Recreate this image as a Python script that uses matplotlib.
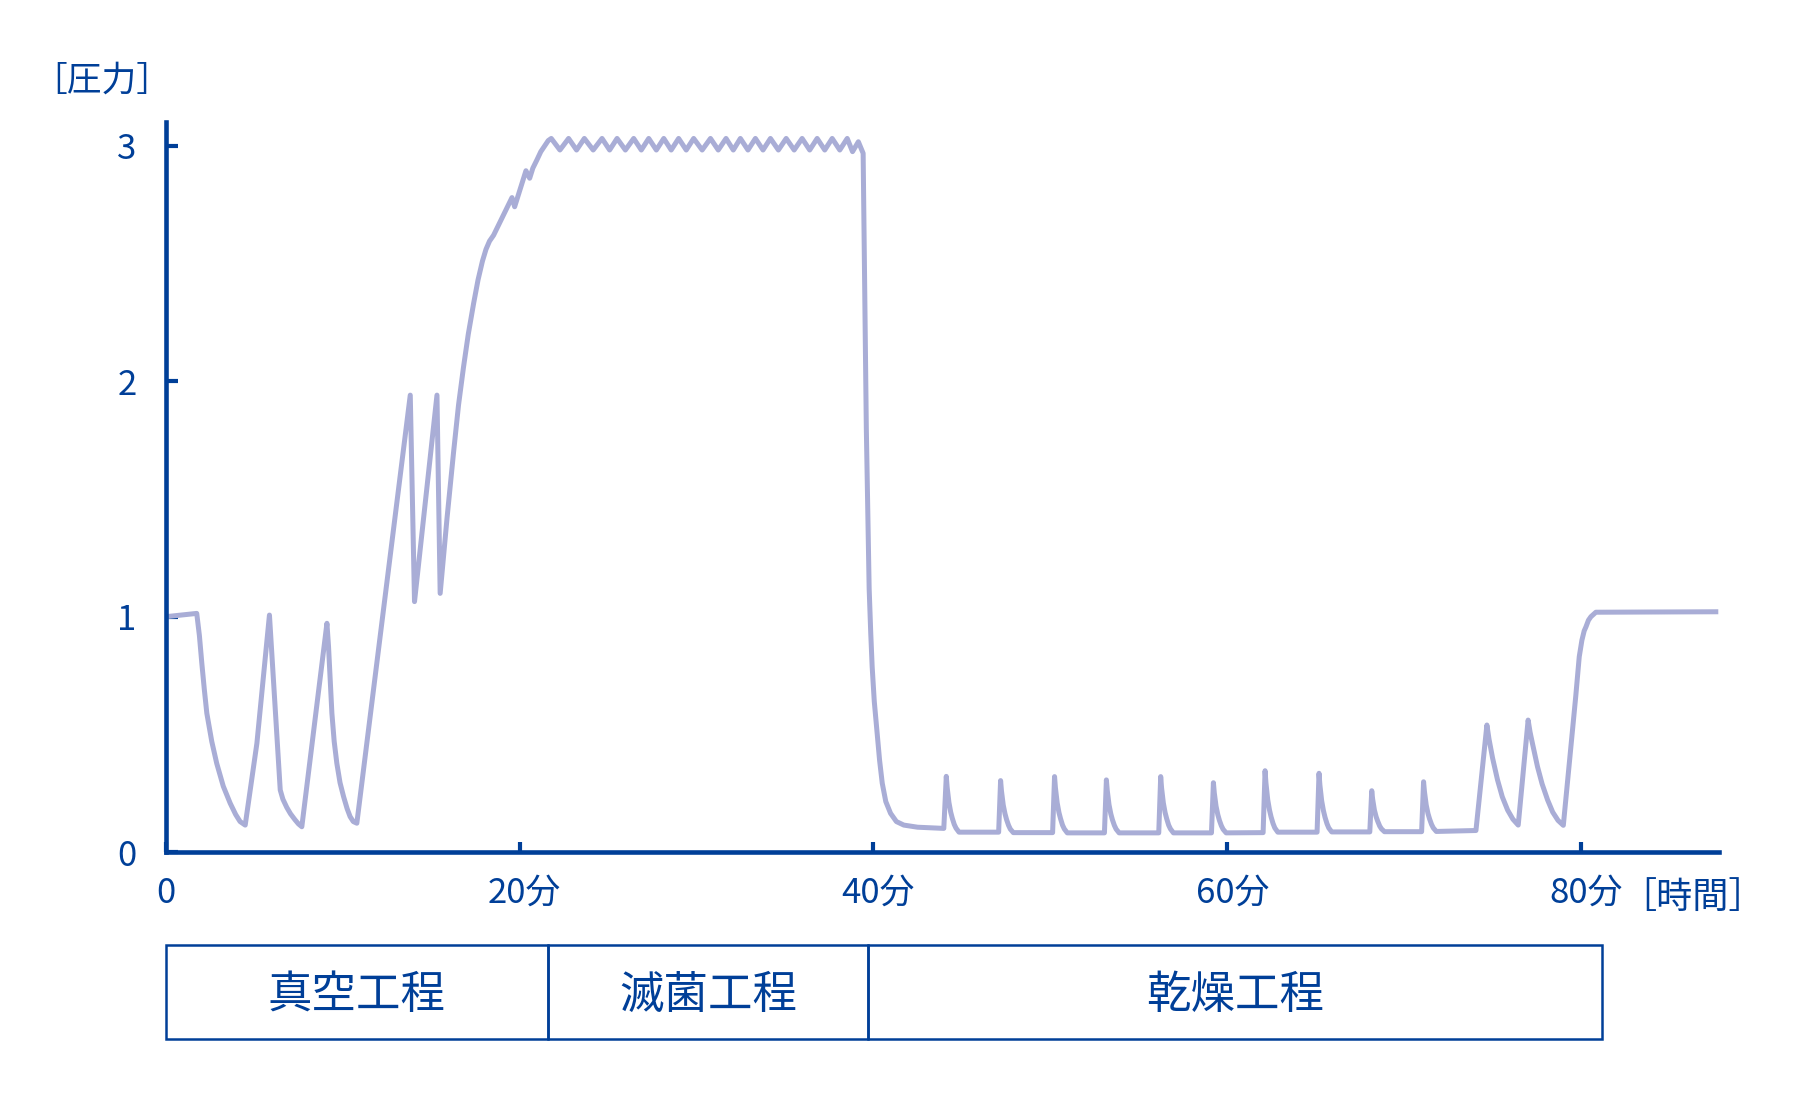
import matplotlib
matplotlib.use("Agg")
import matplotlib.pyplot as plt
from matplotlib.patches import Rectangle
from matplotlib.transforms import ScaledTranslation

plt.rcParams['font.family'] = ['Noto Sans CJK JP', 'DejaVu Sans']

AXIS_COLOR = '#003F98'
LINE_COLOR = '#A9ADD6'

# ---- data (minutes, pressure) ----
vac_t = [0.0, 1.75, 1.90, 2.04, 2.18, 2.32, 2.60, 2.88, 3.25, 3.64, 3.95, 4.20, 4.49,
         5.15, 5.86, 6.47, 6.62, 6.84, 7.05, 7.30, 7.50, 7.69,
         9.11, 9.20, 9.30, 9.39, 9.52, 9.67, 9.85, 10.05, 10.25, 10.42, 10.60, 10.80,
         13.82, 14.06, 15.33, 15.51,
         15.90, 16.27, 16.55, 16.83, 17.10, 17.40, 17.65, 17.90, 18.10, 18.30, 18.53,
         19.57, 19.72, 20.36, 20.57, 20.75, 20.98, 21.20, 21.45, 21.62, 21.79]
vac_p = [1.0, 1.014, 0.92, 0.80, 0.69, 0.59, 0.47, 0.377, 0.28, 0.208, 0.16, 0.13, 0.115,
         0.462, 1.007, 0.264, 0.225, 0.19, 0.163, 0.138, 0.12, 0.108,
         0.972, 0.873, 0.72, 0.59, 0.47, 0.377, 0.295, 0.236, 0.185, 0.151, 0.13, 0.123,
         1.941, 1.064, 1.941, 1.099,
         1.42, 1.70, 1.90, 2.06, 2.20, 2.33, 2.43, 2.51, 2.56, 2.595, 2.62,
         2.78, 2.741, 2.894, 2.862, 2.905, 2.94, 2.975, 3.003, 3.022, 3.031]

ster_t = [22.28, 22.77, 23.22, 23.66, 24.16, 24.66, 25.09, 25.51, 25.98, 26.45,
          26.88, 27.30, 27.73, 28.15, 28.57, 28.99, 29.42, 29.84, 30.32, 30.79,
          31.23, 31.67, 32.08, 32.48, 32.91, 33.33, 33.76, 34.18, 34.63, 35.07,
          35.52, 35.97, 36.40, 36.82, 37.25, 37.67, 38.10, 38.52, 38.82, 39.15,
          39.42]
ster_p = [2.982, 3.031, 2.982, 3.031, 2.982, 3.031, 2.982, 3.031, 2.982, 3.031,
          2.982, 3.031, 2.982, 3.031, 2.982, 3.031, 2.982, 3.031, 2.982, 3.031,
          2.982, 3.031, 2.982, 3.031, 2.982, 3.031, 2.982, 3.031, 2.982, 3.031,
          2.982, 3.031, 2.982, 3.031, 2.982, 3.031, 2.982, 3.031, 2.975, 3.017,
          2.968]

drop_t = [39.52, 39.60, 39.68, 39.76, 39.85, 39.93, 40.05, 40.21, 40.35, 40.50,
          40.70, 40.97, 41.30, 41.72, 42.50, 43.98]
drop_p = [2.30, 1.80, 1.45, 1.12, 0.93, 0.788, 0.64, 0.505, 0.39, 0.293,
          0.215, 0.165, 0.13, 0.115, 0.106, 0.101]

pulse_t = [44.12, 44.17, 44.27, 44.37, 44.46, 44.57, 44.67, 44.84,
           47.08, 47.19, 47.24, 47.34, 47.44, 47.53, 47.64, 47.74, 47.91,
           50.13, 50.24, 50.29, 50.39, 50.49, 50.58, 50.69, 50.79, 50.96,
           53.06, 53.17, 53.22, 53.32, 53.42, 53.51, 53.62, 53.72, 53.89,
           56.13, 56.24, 56.29, 56.39, 56.49, 56.58, 56.69, 56.79, 56.96,
           59.11, 59.22, 59.27, 59.37, 59.47, 59.56, 59.67, 59.77, 59.94,
           62.03, 62.14, 62.19, 62.29, 62.39, 62.48, 62.59, 62.69, 62.86,
           65.08, 65.19, 65.24, 65.34, 65.44, 65.53, 65.64, 65.74, 65.91,
           68.06, 68.17, 68.22, 68.32, 68.42, 68.51, 68.62, 68.72, 68.89,
           70.99, 71.10, 71.15, 71.25, 71.35, 71.44, 71.55, 71.65, 71.82]
pulse_p = [0.322, 0.275, 0.211, 0.170, 0.144, 0.118, 0.102, 0.085,
           0.085, 0.304, 0.260, 0.200, 0.163, 0.138, 0.114, 0.098, 0.083,
           0.083, 0.321, 0.273, 0.209, 0.168, 0.142, 0.115, 0.099, 0.082,
           0.082, 0.307, 0.262, 0.201, 0.163, 0.138, 0.114, 0.098, 0.082,
           0.082, 0.321, 0.273, 0.209, 0.168, 0.142, 0.115, 0.099, 0.082,
           0.082, 0.295, 0.252, 0.195, 0.159, 0.135, 0.112, 0.097, 0.082,
           0.083, 0.346, 0.294, 0.223, 0.179, 0.150, 0.122, 0.103, 0.085,
           0.085, 0.335, 0.285, 0.218, 0.176, 0.148, 0.121, 0.103, 0.086,
           0.086, 0.261, 0.226, 0.179, 0.150, 0.131, 0.111, 0.099, 0.087,
           0.087, 0.299, 0.257, 0.200, 0.164, 0.141, 0.118, 0.103, 0.088]

end_t = [74.06, 74.68, 74.80, 75.00, 75.28, 75.55, 75.85, 76.15, 76.45,
         77.01, 77.12, 77.26, 77.54, 77.80, 78.11, 78.40, 78.70, 79.00,
         79.43, 79.70, 79.90, 80.05, 80.18, 80.28, 80.42, 80.56, 80.84, 87.76]
end_p = [0.092, 0.54, 0.48, 0.40, 0.307, 0.235, 0.179, 0.14, 0.115,
         0.561, 0.51, 0.46, 0.363, 0.29, 0.222, 0.17, 0.135, 0.114,
         0.448, 0.66, 0.83, 0.90, 0.94, 0.957, 0.985, 1.0, 1.019, 1.021]

x_ticks = [0, 20, 40, 60, 80]
x_tick_labels = ['0', '20分', '40分', '60分', '80分']
y_ticks = [0, 1, 2, 3]
y_tick_labels = ['0', '1', '2', '3']

phase_names = ['真空工程', '滅菌工程', '乾燥工程']
phase_bounds = [0, 21.6, 39.7, 81.2]

y_label = '［圧力］'
x_label = '［時間］'

# ---- figure ----
fig = plt.figure(figsize=(18, 11.01), dpi=100)
left, right = 0.0921, 0.955
bottom, top = 0.226, 0.889
ax = fig.add_axes([left, bottom, right - left, top - bottom])

t_all = vac_t + ster_t + drop_t + pulse_t + end_t
p_all = vac_p + ster_p + drop_p + pulse_p + end_p
ax.plot(t_all, p_all, color=LINE_COLOR, lw=3.6, solid_joinstyle='round',
        solid_capstyle='butt', zorder=2)

ax.set_xlim(0, 87.8)
ax.set_ylim(0, 3.1)
for s in ['top', 'right']:
    ax.spines[s].set_visible(False)
for s in ['left', 'bottom']:
    ax.spines[s].set_color(AXIS_COLOR)
    ax.spines[s].set_linewidth(3.3)
    ax.spines[s].set_zorder(3)

ax.set_xticks(x_ticks)
ax.set_xticklabels(x_tick_labels)
ax.set_yticks(y_ticks)
ax.set_yticklabels(y_tick_labels)
ax.tick_params(axis='x', direction='in', length=7, width=3, color=AXIS_COLOR,
               labelcolor=AXIS_COLOR, labelsize=25, pad=17)
ax.tick_params(axis='y', direction='in', length=8.5, width=3, color=AXIS_COLOR,
               labelcolor=AXIS_COLOR, labelsize=25, pad=21)
shift = ScaledTranslation(5 / 100, 0, fig.dpi_scale_trans)
for lab in ax.get_xticklabels()[1:]:
    lab.set_transform(lab.get_transform() + shift)
ax.patch.set_alpha(0)

fig.text(0.018, 0.926, y_label, color=AXIS_COLOR, fontsize=25,
         ha='left', va='center')
fig.text(0.9, 0.184, x_label, color=AXIS_COLOR, fontsize=26,
         ha='left', va='center')

# ---- phase boxes ----
bx = fig.add_axes([left, 0.056, right - left, 0.0855])
bx.set_xlim(0, 87.8)
bx.set_ylim(0, 1)
bx.axis('off')
for name, a, b in zip(phase_names, phase_bounds[:-1], phase_bounds[1:]):
    bx.add_patch(Rectangle((a, 0), b - a, 1, fill=False, ec=AXIS_COLOR,
                           lw=1.8, clip_on=False))
    bx.text((a + b) / 2, 0.47, name, color=AXIS_COLOR, fontsize=32,
            ha='center', va='center')

fig.savefig('out.png', dpi=100)
